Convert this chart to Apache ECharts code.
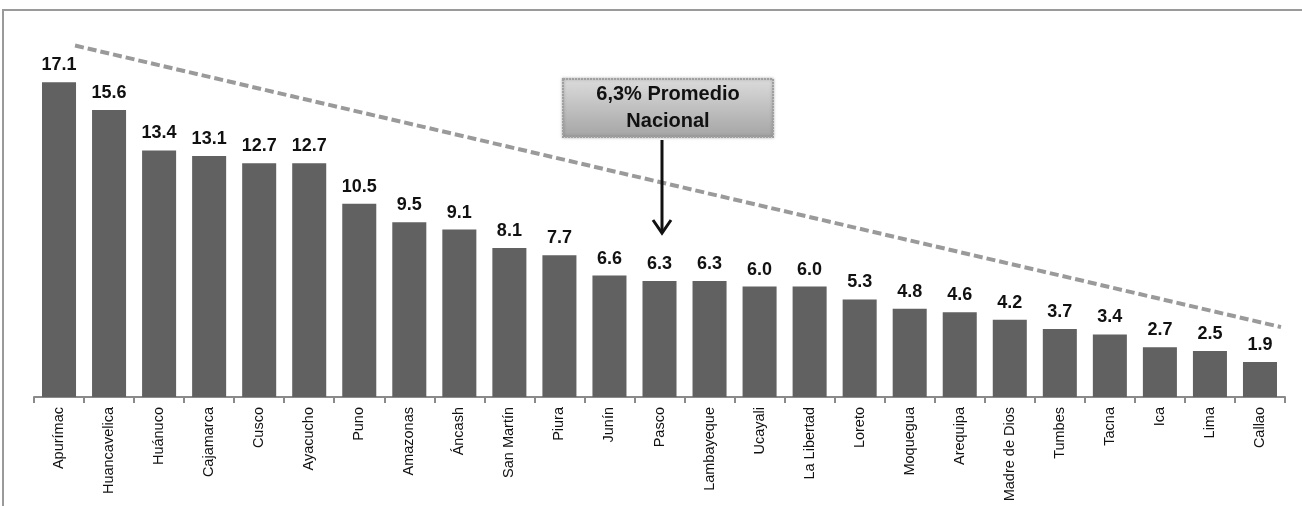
<!DOCTYPE html>
<html>
<head>
<meta charset="utf-8">
<script src="https://cdn.jsdelivr.net/npm/echarts@6/dist/echarts.min.js"></script>
<style>html,body{margin:0;padding:0;background:#fff}#c{width:1302px;height:506px}</style>
</head>
<body>
<div id="c"></div>
<script>
const categories = ['Apurímac','Huancavelica','Huánuco','Cajamarca','Cusco','Ayacucho','Puno','Amazonas','Áncash','San Martín','Piura','Junín','Pasco','Lambayeque','Ucayali','La Libertad','Loreto','Moquegua','Arequipa','Madre de Dios','Tumbes','Tacna','Ica','Lima','Callao'];
const values = [17.1,15.6,13.4,13.1,12.7,12.7,10.5,9.5,9.1,8.1,7.7,6.6,6.3,6.3,6.0,6.0,5.3,4.8,4.6,4.2,3.7,3.4,2.7,2.5,1.9];
const trendX = [0.32, 24.42];
const trendY = [19.1, 3.8];
const noteText = '6,3% Promedio\nNacional';

const chart = echarts.init(document.getElementById('c'));
chart.setOption({
  animation: false,
  grid: {left: 34, right: 17, top: 29, bottom: 109},
  xAxis: [{
    type: 'category', data: categories,
    axisLine: {lineStyle: {color: '#8a8a8a', width: 2}},
    axisTick: {show: true, length: 6, lineStyle: {color: '#8a8a8a', width: 2}},
    axisLabel: {rotate: 90, interval: 0, color: '#111', fontSize: 14.5, fontFamily: 'Liberation Sans, Arial', margin: 10}
  }, {
    type: 'value', min: -0.5, max: 24.5, show: false
  }],
  yAxis: {type: 'value', min: 0, max: 20, show: false},
  series: [{
    type: 'bar', data: values, barCategoryGap: '32%',
    itemStyle: {color: '#616161'},
    label: {show: true, position: 'top', distance: 8, color: '#111', fontWeight: 'bold', fontSize: 18,
      fontFamily: 'Liberation Sans, Arial',
      formatter: p => p.value.toFixed(1)}
  }, {
    type: 'line', xAxisIndex: 1, symbol: 'none',
    data: trendX.map((x, i) => [x, trendY[i]]),
    lineStyle: {color: '#9a9a9a', width: 4, type: [9, 4]},
    z: 1
  }],
  graphic: [
    {type: 'rect', shape: {x: 3, y: 10, width: 1320, height: 520}, style: {fill: 'none', stroke: '#9a9a9a', lineWidth: 2}, z: 0},
    {type: 'rect', shape: {x: 563, y: 79, width: 210, height: 58},
      style: {fill: new echarts.graphic.LinearGradient(0, 0, 0, 1, [{offset: 0, color: '#dcdcdc'}, {offset: 1, color: '#a4a4a4'}]), stroke: '#a0a0a0', lineWidth: 2, lineDash: [2, 1], shadowBlur: 3, shadowColor: 'rgba(0,0,0,0.3)'}, z: 10},
    {type: 'text', x: 668, y: 108, z: 11,
      style: {text: noteText, align: 'center', verticalAlign: 'middle', fill: '#111', font: 'bold 20px "Liberation Sans", Arial', lineHeight: 27}},
    {type: 'line', shape: {x1: 662, y1: 140, x2: 662, y2: 232}, style: {stroke: '#111', lineWidth: 3}, z: 10},
    {type: 'polyline', shape: {points: [[653, 220], [662, 233], [671, 220]]}, style: {stroke: '#111', lineWidth: 3, fill: 'none'}, z: 10}
  ]
});
</script>
</body>
</html>
